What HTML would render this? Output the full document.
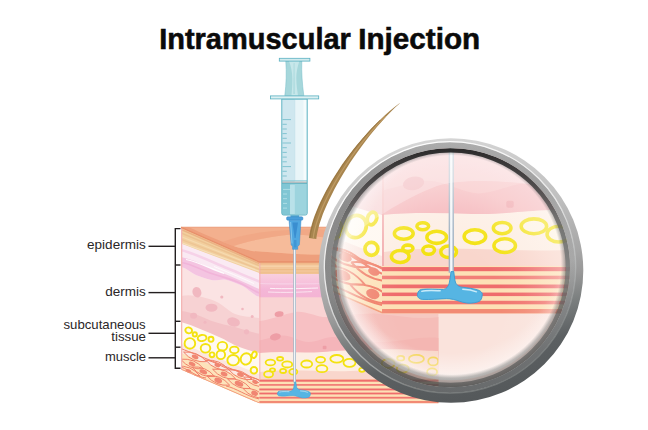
<!DOCTYPE html>
<html lang="en">
<head>
<meta charset="utf-8">
<title>Intramuscular Injection</title>
<style>
  html, body { margin: 0; padding: 0; background: #ffffff; }
  body { width: 648px; height: 430px; overflow: hidden; position: relative; font-family: "Liberation Sans", sans-serif; }
  svg { position: absolute; left: 0; top: 0; display: block; }
  .title { font-family: "Liberation Sans", sans-serif; font-weight: 700; font-size: 28.6px; fill: #0a0a0a; }
  .lbl { font-family: "Liberation Sans", sans-serif; font-size: 13px; fill: #2a2627; }
</style>
</head>
<body>
<svg width="648" height="430" viewBox="0 0 648 430">
<defs>
  <!-- clip paths for block faces -->
  <clipPath id="cpLeft"><polygon points="181,227.3 259.3,262 259.3,403.3 181,369.5"/></clipPath>
  <clipPath id="cpFront"><rect x="259.3" y="262" width="179.1" height="141.3"/></clipPath>
  <clipPath id="cpLensIn"><circle cx="451" cy="265.8" r="114.4"/></clipPath>
  <clipPath id="cpLens"><circle cx="450.5" cy="267.7" r="119.8"/></clipPath>

  <linearGradient id="gLav" x1="0" y1="0" x2="0" y2="1">
    <stop offset="0" stop-color="#f9d3de"/>
    <stop offset="0.35" stop-color="#f7c4dc"/>
    <stop offset="0.7" stop-color="#f4b6d7"/>
    <stop offset="1" stop-color="#f4b4d4"/>
  </linearGradient>
  <linearGradient id="gRingA" gradientUnits="userSpaceOnUse" x1="425" y1="140" x2="478" y2="402">
    <stop offset="0" stop-color="#d6d6d6"/>
    <stop offset="0.3" stop-color="#c0c0c0"/>
    <stop offset="0.52" stop-color="#a6a6a6"/>
    <stop offset="0.6" stop-color="#989898"/>
    <stop offset="0.7" stop-color="#7a7e7e"/>
    <stop offset="0.82" stop-color="#5c6062"/>
    <stop offset="1" stop-color="#54585a"/>
  </linearGradient>
  <linearGradient id="gRingB" gradientUnits="userSpaceOnUse" x1="334" y1="235" x2="568" y2="300">
    <stop offset="0" stop-color="#8a8a8a"/>
    <stop offset="0.5" stop-color="#9a9a9a"/>
    <stop offset="1" stop-color="#acacac"/>
  </linearGradient>
  <linearGradient id="gRingD" gradientUnits="userSpaceOnUse" x1="435" y1="140" x2="467" y2="400">
    <stop offset="0" stop-color="#ffffff" stop-opacity="0.25"/>
    <stop offset="0.3" stop-color="#808080" stop-opacity="0"/>
    <stop offset="0.52" stop-color="#505454" stop-opacity="0.04"/>
    <stop offset="0.7" stop-color="#484c4e" stop-opacity="0.42"/>
    <stop offset="0.85" stop-color="#484c4e" stop-opacity="0.6"/>
    <stop offset="1" stop-color="#484c4e" stop-opacity="0.65"/>
  </linearGradient>
  <linearGradient id="gRingC" gradientUnits="userSpaceOnUse" x1="451" y1="148" x2="451" y2="388">
    <stop offset="0" stop-color="#242424" stop-opacity="0.95"/>
    <stop offset="0.12" stop-color="#3a3a3a" stop-opacity="0.9"/>
    <stop offset="0.3" stop-color="#686868" stop-opacity="0.85"/>
    <stop offset="0.5" stop-color="#7c8080" stop-opacity="0.85"/>
    <stop offset="0.75" stop-color="#505454" stop-opacity="0.55"/>
    <stop offset="1" stop-color="#3c4040" stop-opacity="0.55"/>
  </linearGradient>
  <linearGradient id="gRingHi" gradientUnits="userSpaceOnUse" x1="400" y1="145" x2="500" y2="398">
    <stop offset="0" stop-color="#ffffff"/>
    <stop offset="0.4" stop-color="#e6e6e6"/>
    <stop offset="0.65" stop-color="#b0b2b2"/>
    <stop offset="0.85" stop-color="#7c8080"/>
    <stop offset="1" stop-color="#707474"/>
  </linearGradient>
  <radialGradient id="gGlass" cx="448" cy="305" r="152" gradientUnits="userSpaceOnUse">
    <stop offset="0" stop-color="#ffffff" stop-opacity="0"/>
    <stop offset="0.35" stop-color="#ffffff" stop-opacity="0"/>
    <stop offset="0.5" stop-color="#fffaf8" stop-opacity="0.06"/>
    <stop offset="0.6" stop-color="#fffaf8" stop-opacity="0.16"/>
    <stop offset="0.77" stop-color="#fffaf6" stop-opacity="0.38"/>
    <stop offset="1" stop-color="#ffffff" stop-opacity="0.5"/>
  </radialGradient>
  <radialGradient id="gGlow" cx="451" cy="240" r="141" gradientUnits="userSpaceOnUse">
    <stop offset="0.8" stop-color="#ffffff" stop-opacity="0"/>
    <stop offset="0.93" stop-color="#ffffff" stop-opacity="0.4"/>
    <stop offset="1" stop-color="#f4f4f2" stop-opacity="0.8"/>
  </radialGradient>
  <radialGradient id="gGlowL" cx="482" cy="262" r="146" gradientUnits="userSpaceOnUse">
    <stop offset="0.82" stop-color="#ffffff" stop-opacity="0"/>
    <stop offset="0.93" stop-color="#ffffff" stop-opacity="0.35"/>
    <stop offset="1" stop-color="#ffffff" stop-opacity="0.7"/>
  </radialGradient>
  <radialGradient id="gShadow" cx="451.5" cy="265" r="125" gradientUnits="userSpaceOnUse">
    <stop offset="0.875" stop-color="#505454" stop-opacity="0"/>
    <stop offset="0.905" stop-color="#4c5050" stop-opacity="0.36"/>
    <stop offset="0.95" stop-color="#464a4a" stop-opacity="0.5"/>
    <stop offset="1" stop-color="#3c4040" stop-opacity="0.7"/>
  </radialGradient>

  <!-- SKIN BLOCK -->
  <g id="block">
    <!-- ===== LEFT FACE ===== -->
<g clip-path="url(#cpLeft)">
  <rect x="181" y="227" width="79" height="177" fill="#fbe3e3"/>
  <!-- dermis medium -->
  <path d="M181,296 C192,294 202,297 211,299.5 C222,303 228,311 235,314 C243,317 252,317 259.3,318 L259.3,380 L181,380 Z" fill="#f7d2d3"/>
  <!-- dermis darker -->
  <path d="M181,311 C192,312 202,317 211,320.7 C220,324 228,325 235,327 C244,330 252,332 259.3,333.7 L259.3,380 L181,380 Z" fill="#f3c2c6"/>
  <!-- blobs -->
  <g fill="#f1b8c0">
    <ellipse cx="196.9" cy="292.2" rx="4.4" ry="5.4" transform="rotate(-20 196.9 292.2)"/>
    <ellipse cx="211.5" cy="307.7" rx="6" ry="4"/>
    <ellipse cx="193.6" cy="315.8" rx="3.5" ry="3"/>
    <ellipse cx="233.5" cy="322" rx="6.5" ry="4.5" transform="rotate(15 233.5 322)"/>
    <circle cx="246.5" cy="331.8" r="2.6"/>
    <circle cx="221.8" cy="297" r="1.6"/>
    <circle cx="205" cy="322.3" r="1.5"/>
    <circle cx="242.5" cy="309" r="1.3"/>
    <circle cx="252.2" cy="316.6" r="1.5"/>
  </g>
  <!-- lavender-white band -->
  <path d="M181,243 L259.3,272 L259.3,296.6 C256,296 254.5,294.5 252.4,293 C248,289.5 244,286 239.4,284.5 C234,282.5 229,280 224.5,279.5 C220,279.2 216,281 211.5,280 C206,278.8 201,277 196.6,275.2 C191,273 186,267.5 181,267 Z" fill="#faeaf3"/>
  <path d="M181,257 C190,258.5 199,263 208,267 C218,271.5 228,275 238,279.5 C246,283 253,286.5 259.3,289 L259.3,296.6 C256,296 254.5,294.5 252.4,293 C248,289.5 244,286 239.4,284.5 C234,282.5 229,280 224.5,279.5 C220,279.2 216,281 211.5,280 C206,278.8 201,277 196.6,275.2 C191,273 186,267.5 181,267 Z" fill="#f4c4e1"/>
  <path d="M181,262.5 C192,264 200,269.5 210,273 C222,277 232,279 242,284 C249,287.5 254,291 259.3,293" fill="none" stroke="#f1b4d9" stroke-width="1.6"/>
  <path d="M181,250 C196,254 212,262 228,268.5 C240,273.5 250,278 259.3,281.5" fill="none" stroke="#f6d2e8" stroke-width="2.6"/>
  <path d="M186,259.5 C198,262 210,268.5 224,273.5" fill="none" stroke="#ffffff" stroke-width="1.1" opacity="0.9"/>
  <path d="M214,266.5 C226,271.5 240,277 254,283.5" fill="none" stroke="#ffffff" stroke-width="0.9" opacity="0.8"/>
  <!-- tan band -->
  <polygon points="181,227.3 259.3,262 259.3,273 181,243.6" fill="#f2cf9e"/>
  <path d="M181,233 L259.3,265.6" stroke="#ecc190" stroke-width="1.5" fill="none"/>
  <path d="M181,236.6 L259.3,267.6" stroke="#f6dab0" stroke-width="1.1" fill="none"/>
  <path d="M181,239.4 L259.3,269.4" stroke="#edc494" stroke-width="1.2" fill="none"/>
  <path d="M181,242.6 L259.3,271.2" stroke="#f6dfba" stroke-width="1.2" fill="none"/>
  <path d="M181,229.4 L259.3,263.6" stroke="#ebb284" stroke-width="1.6" fill="none"/>
  <!-- fat layer -->
  <path d="M181,322 C195,326 207,332 219,337 C227,340.5 232,344 238,346.5 C246,349.5 252,351 259.3,353 L259.3,380 L181,349 Z" fill="#fff8f1"/>
  <path d="M181,343.5 L259.3,374 L259.3,380 L181,349 Z" fill="#fbe6e0"/>
  <g fill="#fffdf0" fill-opacity="0.6" stroke="#f3e210" stroke-width="1.9">
    <ellipse cx="188.7" cy="330.4" rx="3.4" ry="2.9" transform="rotate(15 188.7 330.4)"/>
    <circle cx="194.8" cy="334.4" r="2.1"/>
    <ellipse cx="202.1" cy="338" rx="4.4" ry="3.1" transform="rotate(-10 202.1 338)"/>
    <circle cx="211" cy="339.3" r="2.5"/>
    <ellipse cx="189.9" cy="343.4" rx="5.3" ry="5.3"/>
    <ellipse cx="205.5" cy="348.3" rx="4.8" ry="4.3"/>
    <circle cx="212" cy="354.8" r="2.4"/>
    <ellipse cx="222.4" cy="346.2" rx="4.8" ry="4.3"/>
    <ellipse cx="220.8" cy="354.8" rx="4.3" ry="4.3"/>
    <ellipse cx="234.3" cy="349.9" rx="4.3" ry="3.3"/>
    <ellipse cx="233.2" cy="360.2" rx="5.8" ry="5.2"/>
    <ellipse cx="246" cy="358.9" rx="5.2" ry="5.8" transform="rotate(25 246 358.9)"/>
    <ellipse cx="254.2" cy="354.8" rx="2.3" ry="3.3" transform="rotate(20 254.2 354.8)"/>
    <ellipse cx="253.9" cy="370.3" rx="3.3" ry="3.3"/>
  </g>
  <!-- muscle -->
  <polygon points="181,348 259.3,379 259.3,404 181,370" fill="#fde3bb"/>
  <polygon points="181,348 259.3,379 259.3,384 181,353" fill="#fbe9e2"/>
  <g fill="none" stroke="#f0806a" stroke-width="1">
    <path d="M181,348.6 C200,356 220,364.5 259.3,380"/>
    <path d="M205,360 C215,361 222,368 232,369.5 C242,371 250,379 259.3,383"/>
    <path d="M181,367 C190,370 196,377 206,378"/>
    <path d="M226,386 C236,388 246,396 259.3,399"/>
    <path d="M183.6,352.1 Q192.6,363.0 206.6,361.7 Q197.6,350.8 183.6,352.1 M180.6,359.2 Q189.6,370.1 203.6,368.8 Q194.6,357.9 180.6,359.2 M176.9,366.2 Q185.9,377.1 199.9,375.8 Q190.9,364.9 176.9,366.2 M205.9,360.3 Q214.9,371.2 228.9,369.9 Q219.9,359.0 205.9,360.3 M191.8,367.0 Q200.8,377.9 214.8,376.6 Q205.8,365.7 191.8,367.0 M212.6,369.2 Q221.6,380.1 235.6,378.8 Q226.6,367.9 212.6,369.2 M229.0,369.9 Q238.0,380.8 252.0,379.5 Q243.0,368.6 229.0,369.9 M206.7,375.6 Q215.7,386.5 229.7,385.2 Q220.7,374.3 206.7,375.6 M227.5,378.9 Q236.5,389.8 250.5,388.5 Q241.5,377.6 227.5,378.9 M243.6,377.1 Q252.6,388.0 266.6,386.7 Q257.6,375.8 243.6,377.1 M243.1,388.5 Q252.1,399.4 266.1,398.1 Q257.1,387.2 243.1,388.5"/>
  </g>
  <g fill="#f08672">
    <ellipse cx="195.1" cy="356.9" rx="3.5" ry="2.0" transform="rotate(22 195.1 356.9)"/>
    <ellipse cx="192.1" cy="364.0" rx="3.5" ry="2.0" transform="rotate(22 192.1 364.0)"/>
    <ellipse cx="188.4" cy="371.0" rx="3.0" ry="1.8" transform="rotate(22 188.4 371.0)"/>
    <ellipse cx="217.4" cy="365.1" rx="3.0" ry="2.0" transform="rotate(22 217.4 365.1)"/>
    <ellipse cx="203.3" cy="371.8" rx="4.0" ry="2.2" transform="rotate(22 203.3 371.8)"/>
    <ellipse cx="224.1" cy="374.0" rx="3.5" ry="2.2" transform="rotate(22 224.1 374.0)"/>
    <ellipse cx="240.5" cy="374.7" rx="3.5" ry="2.0" transform="rotate(22 240.5 374.7)"/>
    <ellipse cx="218.2" cy="380.4" rx="4.0" ry="2.5" transform="rotate(22 218.2 380.4)"/>
    <ellipse cx="239.0" cy="383.7" rx="4.5" ry="2.5" transform="rotate(22 239.0 383.7)"/>
    <ellipse cx="255.1" cy="381.9" rx="3.0" ry="2.0" transform="rotate(22 255.1 381.9)"/>
    <ellipse cx="254.6" cy="393.3" rx="3.5" ry="2.5" transform="rotate(22 254.6 393.3)"/>
  </g>
  <path d="M181,369.5 L259.3,403.3" stroke="#f29a78" stroke-width="1.6" fill="none"/>
  <!-- left edge -->
  <path d="M181.5,227.3 L181.5,370" stroke="#f3b6b4" stroke-width="1.6" fill="none"/>
</g>

<!-- ===== FRONT FACE ===== -->
<g clip-path="url(#cpFront)">
  <rect x="259" y="262" width="180" height="142" fill="#f9d3d3"/>
  <!-- medium -->
  <path d="M259.3,321 C270,320 284,314 295.7,312 C306,311 314,316 323,317 C340,318 360,312 380,314 C400,316 420,320 439,317 L439,360 L259.3,360 Z" fill="#f7c0c3"/>
  <!-- darker -->
  <path d="M259.3,340.5 C268,339 275,335.6 282.7,335.6 C292,335.6 300,342 308.7,342 C317,342 325,337 333,337 C350,337 365,343 385,342 C405,341 420,336 439,338 L439,360 L259.3,360 Z" fill="#f5b5ba"/>
  <g fill="#ee9ea6">
    <ellipse cx="279.1" cy="314.1" rx="4.5" ry="2.8" transform="rotate(-8 279.1 314.1)"/>
    <ellipse cx="275.4" cy="336.9" rx="5.5" ry="3.4" transform="rotate(-12 275.4 336.9)"/>
    <rect x="322.7" y="345.7" width="3.8" height="3.6" rx="1"/>
  </g>
  <!-- lavender band -->
  <rect x="259" y="272" width="180" height="25.3" fill="url(#gLav)"/>
  <path d="M259.3,283.5 C290,284.5 310,284 345,283" stroke="#f8d6e8" stroke-width="1.2" fill="none" opacity="0.8"/>
  <path d="M270,288.4 C285,289 300,288.6 318,288" stroke="#ffffff" stroke-width="1" fill="none" opacity="0.8"/>
  <path d="M268,292 C285,292.8 300,292.2 312,291.6" stroke="#ffffff" stroke-width="0.9" fill="none" opacity="0.7"/>
  <!-- tan band -->
  <rect x="259" y="262" width="180" height="12" fill="#f3c79a"/>
  <path d="M259.3,263.8 L439,263.8" stroke="#f1b98a" stroke-width="1.6" fill="none"/>
  <path d="M259.3,266.3 L439,266.3" stroke="#f7d2a8" stroke-width="1.6" fill="none"/>
  <path d="M259.3,269.6 L439,269.6" stroke="#eebc88" stroke-width="1.4" fill="none"/>
  <path d="M259.3,272.6 L439,272.6" stroke="#f0c08e" stroke-width="1.6" fill="none"/>
  <!-- fat -->
  <path d="M259.3,353 C275,351.5 290,352 305,352.5 C320,353 330,351 345,350.5 C365,350 385,349 405,349.5 C420,350 430,351 439,351 L439,380 L259.3,380 Z" fill="#fdeee4"/>
  <path d="M259.3,372 C290,368 320,372 350,371 C380,370 410,373 439,372 L439,380 L259.3,380 Z" fill="#f9d6cc"/>
  <g fill="#fffbe6" fill-opacity="0.45" stroke="#f3e210" stroke-width="1.8">
    <ellipse cx="270.4" cy="362.5" rx="4.8" ry="2.9"/>
    <ellipse cx="280.1" cy="358.8" rx="3" ry="1.8"/>
    <ellipse cx="287.2" cy="364.4" rx="5" ry="3.1"/>
    <ellipse cx="268.6" cy="374.2" rx="4.5" ry="3.1"/>
    <ellipse cx="272.5" cy="370" rx="2.6" ry="1.6"/>
    <ellipse cx="283.1" cy="370.9" rx="3" ry="2.1"/>
    <ellipse cx="293.3" cy="371.8" rx="4" ry="2.9"/>
    <ellipse cx="306.7" cy="364" rx="5.5" ry="3.5"/>
    <ellipse cx="320.6" cy="359.7" rx="4.5" ry="2.9"/>
    <ellipse cx="321.9" cy="368.7" rx="5.5" ry="3.5"/>
    <ellipse cx="336.8" cy="358.8" rx="6.5" ry="3.8"/>
    <ellipse cx="349.5" cy="362.8" rx="6" ry="4"/>
    <ellipse cx="362" cy="369.8" rx="2.8" ry="2"/>
    <ellipse cx="370.4" cy="362.5" rx="3" ry="2"/>
    <ellipse cx="388.2" cy="363.5" rx="6.5" ry="4.5"/>
    <ellipse cx="400.7" cy="358.3" rx="3.5" ry="2.4"/>
    <ellipse cx="402.8" cy="368.7" rx="6" ry="4"/>
    <ellipse cx="416.4" cy="358.9" rx="7.5" ry="4"/>
    <ellipse cx="433.2" cy="361.4" rx="5" ry="4"/>
    <ellipse cx="432.1" cy="371.9" rx="5" ry="3.5"/>
  </g>
  <!-- muscle stripes -->
  <rect x="259" y="379" width="180" height="25" fill="#fde0b6"/>
  <g fill="#ef6c6c">
    <rect x="259" y="379.6" width="180" height="2.1"/>
    <rect x="259" y="384" width="180" height="1.8" fill="#f27f78"/>
    <rect x="259" y="388.5" width="180" height="1.9"/>
    <rect x="259" y="392.6" width="180" height="1.8"/>
    <rect x="259" y="396.8" width="180" height="1.8" fill="#f17670"/>
    <rect x="259" y="401" width="180" height="2.4" fill="#f28a74"/>
  </g>
  <!-- corner line -->
  <path d="M259.8,262 L259.8,379" stroke="#f2a9ac" stroke-width="1" fill="none"/>
</g>

<!-- ===== TOP FACE ===== -->
<polygon points="181,227.3 440,227.3 440,262 259.3,262" fill="#f3b08e"/>
<path d="M181,227.3 L259.3,262 L440,262 L440,254.5 C400,254.8 330,254.5 311,254.6 C290,254 270,252.5 252,250.9 C244,249 238,247.5 233.6,246 C220,241 200,232.5 189,227.3 Z" fill="#ee9f7c"/>
<path d="M233.6,246 C242,243 250,241 259.5,239.3 C270,237 280,235.5 289,234.8 C300,234 320,236 340,240 L340,254.6 L311,254.6 C290,254 270,252.5 252,250.9 C244,249 238,247.5 233.6,246 Z" fill="#f6bb9a"/>
<path d="M222,242 C245,233 275,229 320,229.5 L340,231 L340,240 C320,236 300,234 289,234.8 C280,235.5 270,237 259.5,239.3 C250,241 242,243 233.6,246 Z" fill="#f0a683" opacity="0.75"/>
<path d="M181,227.3 L440,227.3" stroke="#ec9c78" stroke-width="1.1" fill="none"/>
<path d="M181,227.3 L259.3,262 L440,262" stroke="#e88f6a" stroke-width="1.3" fill="none"/>

  </g>
<g id="core">
<use href="#block"/>
<!-- needle in skin + blob (part of magnified core) -->
<g id="needleblob">
  <rect x="293.3" y="246" width="2.7" height="136.5" fill="#a3b4c4"/>
  <rect x="294.05" y="246" width="1.2" height="136.5" fill="#f4f8fb"/>
  <path d="M293.9,381.6 L295.3,381.6 C295.6,384 295.8,386 296.3,387.5 C297.5,389.3 299,389.5 300.1,389.6 C302.5,389.9 305,390.3 306.7,390.7 C309,391.3 310.2,392.3 309.8,393.9 C309.6,395.8 308.8,396.8 307.5,397.1 C305.5,397.7 303.5,397.8 301.7,397.6 C299,397.2 297,396.2 295.1,395.8 C293.8,395.5 292.8,395.4 291.7,395.4 C288,395.5 283,396 279.3,395.8 C277.6,395.6 276.6,394.6 276.8,393.3 C277,391.8 277.6,390.9 278.9,390.7 C282,390.3 287,390.7 290.1,390.7 C291.5,390.5 292.6,389.3 293,387.5 C293.5,385.5 293.7,383.5 293.9,381.6 Z" fill="#56b5e3" stroke="#3f9fd4" stroke-width="0.5" transform="translate(0.6 0.3)"/>
  <path d="M279.6,392 C282,391.3 286,391.6 289,391.7" stroke="#c9ebf9" stroke-width="0.7" fill="none" stroke-linecap="round"/>
  <path d="M300.5,390.9 C303,391 305.5,391.4 307.5,392.2" stroke="#c9ebf9" stroke-width="0.7" fill="none" stroke-linecap="round"/>
</g>
</g>
</defs>

<!-- ===== TITLE ===== -->
<text class="title" x="159.15" y="48.5" textLength="191.75" lengthAdjust="spacingAndGlyphs" stroke="#0a0a0a" stroke-width="0.55">Intramuscular</text>
<text class="title" x="358.25" y="48.5" textLength="121.93" lengthAdjust="spacingAndGlyphs" stroke="#0a0a0a" stroke-width="0.55">Injection</text>

<!-- ===== LABELS ===== -->
<g stroke="#231f20" stroke-width="1.4" fill="none">
  <path d="M180.5,228.6 L175.3,228.6 L175.3,368.2 L180.5,368.2"/>
  <path d="M175.3,265 L180.5,265"/>
  <path d="M175.3,321.3 L180.5,321.3"/>
  <path d="M175.3,347.2 L180.5,347.2"/>
  <path d="M148.5,246.3 L175.3,246.3"/>
  <path d="M148.5,292.6 L175.3,292.6"/>
  <path d="M148.5,333.3 L175.3,333.3"/>
  <path d="M148.5,357.8 L175.3,357.8"/>
</g>
<text class="lbl" x="87.1" y="249.3" textLength="58.55" lengthAdjust="spacingAndGlyphs">epidermis</text>
<text class="lbl" x="105.15" y="296" textLength="40.5" lengthAdjust="spacingAndGlyphs">dermis</text>
<text class="lbl" x="63.5" y="329.3" textLength="82.15" lengthAdjust="spacingAndGlyphs">subcutaneous</text>
<text class="lbl" x="111.25" y="340.7" textLength="34.65" lengthAdjust="spacingAndGlyphs">tissue</text>
<text class="lbl" x="105.0" y="360.7" textLength="41.08" lengthAdjust="spacingAndGlyphs">muscle</text>

<!-- ===== BLOCK + NEEDLE ===== -->
<use href="#core"/>

<!-- ===== HAIR ===== -->
<path d="M316.3,238.9 L316.8,235.3 L317.6,231.4 L318.6,227.4 L319.8,223.1 L321.3,218.7 L322.9,214.1 L324.8,209.4 L327.0,204.5 L329.3,199.5 L331.8,194.4 L334.4,189.2 L337.3,184.0 L340.3,178.7 L343.4,173.4 L346.8,168.0 L350.2,162.6 L353.8,157.3 L357.5,152.0 L361.3,146.7 L365.2,141.4 L369.2,136.3 L373.3,131.2 L377.5,126.2 L381.8,121.4 L386.2,116.6 L390.6,112.0 L395.1,107.6 L399.7,103.4 L399.5,103.2 L394.6,107.1 L389.7,111.1 L384.9,115.3 L380.2,119.8 L375.5,124.3 L370.9,129.0 L366.4,133.9 L362.0,138.9 L357.7,143.9 L353.6,149.1 L349.6,154.3 L345.7,159.5 L341.9,164.8 L338.4,170.2 L335.0,175.5 L331.7,180.8 L328.7,186.1 L325.8,191.3 L323.1,196.5 L320.6,201.6 L318.3,206.6 L316.3,211.5 L314.4,216.3 L312.8,220.9 L311.5,225.4 L310.3,229.8 L309.5,234.0 L308.9,237.9 Z" fill="#a8854e"/>
<path d="M313.2,238.5 L313.7,234.7 L314.5,230.7 L315.5,226.6 L316.8,222.2 L318.4,217.7 L320.1,213.0 L322.1,208.2 L324.3,203.2 L326.6,198.2 L329.2,193.1 L332.0,187.9 L334.9,182.6 L338.0,177.3 L341.3,172.0 L344.7,166.7 L348.3,161.3 L352.0,156.0 L355.8,150.7 L359.8,145.5 L363.8,140.3 L368.0,135.3 L372.3,130.3 L376.7,125.4 L381.1,120.7 L385.6,116.1" fill="none" stroke="#bf9b64" stroke-width="1.2"/>
<path d="M309.9,238.0 L310.5,234.1 L311.4,230.0 L312.5,225.7 L313.8,221.2 L315.4,216.6 L317.2,211.9 L319.3,207.0 L321.5,202.0 L324.0,196.9 L326.6,191.7 L329.5,186.5 L332.5,181.2 L335.7,175.9 L339.1,170.6 L342.6,165.3 L346.3,160.0 L350.1,154.7 L354.1,149.5 L358.2,144.3 L362.5,139.2 L366.8,134.2 L371.2,129.3 L375.8,124.6 L380.4,120.0" fill="none" stroke="#94723f" stroke-width="0.8"/>

<!-- ===== SYRINGE ===== -->
<g>
  <!-- plunger stem -->
  <path d="M285.8,61 L301.8,61 C301.4,72 302.2,84 303.8,95.6 L284.8,95.6 C286.3,84 286.6,72 285.8,61 Z" fill="#a6d7db" stroke="#74bcc8" stroke-width="0.5"/>
  <path d="M289,61 L299.4,61 C297.6,66 296.3,72 296.3,78 C296.4,85 297.2,90 298,95.6 L291.5,95.6 C292,90 292.4,85 292.3,78 C292.2,72 291,66 289,61 Z" fill="#c6e7ea"/>
  <path d="M293.6,63 L294.6,63 L295,94 L293.2,94 Z" fill="#a6d7db" opacity="0.7"/>
  <!-- plunger cap -->
  <rect x="279.3" y="58.3" width="30.6" height="2.8" fill="#d2ebee" stroke="#58b0c0" stroke-width="0.8"/>
  <!-- barrel -->
  <path d="M281.8,99 L307.2,99 L307.2,213.2 Q307.2,215 305.4,215 L283.6,215 Q281.8,215 281.8,213.2 Z" fill="#e6f4f7"/>
  <rect x="282.2" y="99" width="12.6" height="83" fill="#cfe7ef"/>
  <rect x="294.8" y="99" width="8.6" height="83" fill="#e9f5f8"/>
  <rect x="303.4" y="99" width="3.4" height="83" fill="#f6fbfc"/>
  <path d="M294.8,100 V181" stroke="#b4dae4" stroke-width="0.5" fill="none"/>
  <!-- liquid -->
  <path d="M282.2,183.6 L306.8,183.6 L306.8,213 Q306.8,214.6 305.2,214.6 L283.8,214.6 Q282.2,214.6 282.2,213 Z" fill="#9dd4de"/>
  <rect x="282.2" y="183.6" width="8" height="31" fill="#80c6d4"/>
  <rect x="290" y="185" width="4.8" height="29.6" fill="#b9e1e9"/>
  <!-- seal -->
  <rect x="282" y="180.3" width="25" height="0.8" fill="#8ccad6"/>
  <rect x="282" y="181.6" width="25" height="1.1" fill="#9aa6a8"/>
  <rect x="282" y="183" width="25" height="0.9" fill="#62b2c2"/>
  <!-- ticks -->
  <g stroke="#62b4c4" stroke-width="0.7">
    <path d="M282.5,119.6 H291 M282.5,143 H291 M282.5,166.6 H291"/>
    <path d="M282.5,124.3 H286.8 M282.5,129 H286.8 M282.5,133.6 H286.8 M282.5,138.3 H286.8 M282.5,147.7 H286.8 M282.5,152.4 H286.8 M282.5,157.1 H286.8 M282.5,161.8 H286.8 M282.5,171.3 H286.8 M282.5,176 H286.8"/>
  </g>
  <g stroke="#c2e6ec" stroke-width="0.7">
    <path d="M283,189.4 H291 M283,194 H287 M283,198.7 H287 M283,203.4 H287 M283,208.1 H287"/>
  </g>
  <path d="M281.8,99 L307.2,99 L307.2,213.2 Q307.2,215 305.4,215 L283.6,215 Q281.8,215 281.8,213.2 Z" fill="none" stroke="#5cb1c1" stroke-width="1"/>
  <!-- flange -->
  <rect x="270.5" y="95.9" width="48.2" height="3" fill="#dcf0f2" stroke="#58b0c0" stroke-width="0.8"/>
  <!-- neck -->
  <rect x="290.5" y="215.2" width="8.6" height="2" fill="#58a9cf"/>
  <!-- hub -->
  <rect x="286.6" y="216.8" width="16.3" height="3.4" rx="1.2" fill="#4a9fdb" stroke="#3787c6" stroke-width="0.5"/>
  <path d="M289,220.2 L301,220.2 L299.4,244.8 L297.7,246.6 L297.7,249.3 L292.6,249.3 L292.6,246.6 L291.2,244.8 Z" fill="#50a7e0" stroke="#3888c8" stroke-width="0.5"/>
  <path d="M292.4,222.5 L298,222.5 L295.6,238 L294.6,238 Z" fill="#3a8ed0"/>
  <path d="M290.6,222 L292,243.5" stroke="#84c6ee" stroke-width="1" fill="none"/>
  <path d="M294,240 L296.4,240 L296.6,247.5 L293.8,247.5 Z" fill="#3a8ed0" opacity="0.7"/>
</g>

<!-- ===== MAGNIFIER ===== -->
<g>
  <!-- lens backing: lets the block show through at the bottom -->
  <g clip-path="url(#cpLens)">
    <circle cx="450.5" cy="267.7" r="121" fill="#f2b9a7" opacity="0.4"/>
    <use href="#core" transform="translate(451 271) scale(1.96) translate(-294.5 -381.6)"/>
    <g clip-path="url(#cpLensIn)">
      <circle cx="450.5" cy="267.7" r="121" fill="url(#gGlass)"/>
      <!-- glossy highlight over the upper part -->
      <path d="M325,262 C350,232 400,200 437,186 C455,180 490,180 520,183 C540,185 555,188 575,195 L575,140 L325,140 Z" fill="#ffffff" opacity="0.27"/>
      <circle cx="450.5" cy="267.7" r="121" fill="url(#gGlow)"/>
      <circle cx="450.5" cy="267.7" r="121" fill="url(#gGlowL)"/>
    </g>
    <circle cx="450.5" cy="267.7" r="121" fill="url(#gShadow)"/>
    <circle cx="450.5" cy="267.7" r="117.4" fill="none" stroke="url(#gRingC)" stroke-width="4.6"/>
  </g>
  <!-- ring -->
  <path fill-rule="evenodd" fill="url(#gRingA)" d="M318.7,270.5 a132.3,132.3 0 1,0 264.6,0 a132.3,132.3 0 1,0 -264.6,0 Z M324.5,267.4 a125.5,125.5 0 1,0 251.0,0 a125.5,125.5 0 1,0 -251.0,0 Z"/>
  <path fill-rule="evenodd" fill="url(#gRingB)" d="M324.5,267.4 a125.5,125.5 0 1,0 251.0,0 a125.5,125.5 0 1,0 -251.0,0 Z M331.0,267.7 a119.5,119.5 0 1,0 239.0,0 a119.5,119.5 0 1,0 -239.0,0 Z"/>
  <path fill-rule="evenodd" fill="url(#gRingD)" d="M324.5,267.4 a125.5,125.5 0 1,0 251.0,0 a125.5,125.5 0 1,0 -251.0,0 Z M331.0,267.7 a119.5,119.5 0 1,0 239.0,0 a119.5,119.5 0 1,0 -239.0,0 Z"/>
  <circle cx="450" cy="267.4" r="125.7" fill="none" stroke="url(#gRingHi)" stroke-width="1.3"/>
</g>

</svg>
</body>
</html>
